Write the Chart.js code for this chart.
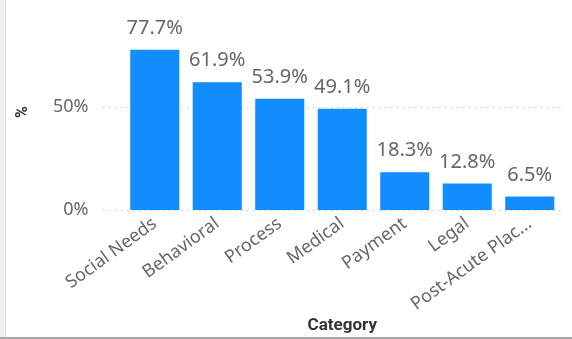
<!doctype html>
<html lang="en">
<head>
  <meta charset="utf-8" />
  <script src="https://cdn.jsdelivr.net/npm/chart.js@4/dist/chart.umd.min.js"></script>
  <style>
    html, body {
      margin: 0;
      padding: 0;
      width: 572px;
      height: 339px;
      background: #ffffff;
      overflow: hidden;
    }
    canvas { display: block; }
  </style>
</head>
<body>
  <canvas id="chart" width="572" height="339"></canvas>
  <script>
    const categories = ['Social Needs', 'Behavioral', 'Process', 'Medical', 'Payment', 'Legal', 'Post-Acute Plac...'];
    const shares = [77.7, 61.9, 53.9, 49.1, 18.3, 12.8, 6.5];
    const yTicks = [0, 50];

    const BAR = '#118DFF';
    const LABEL = '#666666';
    const TITLE = '#333333';
    const BODY_FONT = "'Noto Sans', 'Open Sans', sans-serif";
    const TITLE_FONT = "Roboto, 'DejaVu Sans', sans-serif";

    // visual frame: pale strip on the left, grey rule along the bottom
    const framePlugin = {
      id: 'frame',
      beforeDraw(chart) {
        const { ctx, width, height } = chart;
        ctx.save();
        ctx.fillStyle = '#ffffff';
        ctx.fillRect(0, 0, width, height);
        ctx.fillStyle = '#efefef';
        ctx.fillRect(0, 0, 5, height);
        ctx.fillStyle = '#e2e2e2';
        ctx.fillRect(5, 0, 1, height);
        ctx.fillStyle = '#a8a8a8';
        ctx.fillRect(0, height - 2, width, 2);
        ctx.restore();
      },
    };

    // dotted horizontal gridlines, wider than the category band
    const dottedGrid = {
      id: 'dottedGrid',
      beforeDatasetsDraw(chart) {
        const { ctx, scales: { y } } = chart;
        ctx.save();
        ctx.strokeStyle = '#c4c4c4';
        ctx.lineWidth = 1;
        ctx.setLineDash([1.5, 4.5]);
        yTicks.forEach(v => {
          const py = Math.round(y.getPixelForValue(v)) + 0.5;
          ctx.beginPath();
          ctx.moveTo(103, py);
          ctx.lineTo(564, py);
          ctx.stroke();
        });
        ctx.restore();
      },
    };

    // value labels above each bar
    const valueLabels = {
      id: 'valueLabels',
      afterDatasetsDraw(chart) {
        const { ctx } = chart;
        const meta = chart.getDatasetMeta(0);
        ctx.save();
        ctx.fillStyle = LABEL;
        ctx.font = `20px ${BODY_FONT}`;
        ctx.textAlign = 'center';
        ctx.textBaseline = 'alphabetic';
        meta.data.forEach((bar, i) => {
          ctx.fillText(shares[i].toFixed(1) + '%', bar.x, bar.y - 16);
        });
        ctx.restore();
      },
    };

    new Chart(document.getElementById('chart'), {
      type: 'bar',
      data: {
        labels: categories,
        datasets: [{
          data: shares,
          backgroundColor: BAR,
          borderWidth: 0,
          barPercentage: 0.785,
          categoryPercentage: 1,
        }],
      },
      options: {
        responsive: false,
        animation: false,
        layout: { padding: { left: 0, top: 14, right: 11, bottom: 0 } },
        plugins: {
          legend: { display: false },
          tooltip: { enabled: false },
        },
        scales: {
          x: {
            grid: { display: false, drawTicks: false },
            border: { display: false },
            ticks: {
              color: LABEL,
              font: { family: BODY_FONT, size: 18 },
              minRotation: 36,
              maxRotation: 36,
              autoSkip: false,
              padding: 3,
            },
            title: {
              display: true,
              text: 'Category',
              color: TITLE,
              font: { family: TITLE_FONT, size: 17, weight: 'bold' },
              padding: { top: 0, bottom: 3 },
            },
            afterFit(scale) {
              scale.height = 129;
              scale.paddingLeft = 0;
              scale.paddingRight = 0;
            },
          },
          y: {
            min: 0,
            max: 95,
            grid: { display: false, drawTicks: false },
            border: { display: false },
            afterBuildTicks(scale) {
              scale.ticks = yTicks.map(v => ({ value: v }));
            },
            ticks: {
              color: LABEL,
              font: { family: BODY_FONT, size: 18 },
              padding: 35,
              callback: v => v + '%',
            },
            title: {
              display: true,
              text: '%',
              color: TITLE,
              font: { family: TITLE_FONT, size: 16, weight: 'bold' },
              padding: { top: 13, bottom: 0 },
            },
            afterFit(scale) {
              scale.width = 123.5;
              scale.paddingTop = 0;
              scale.paddingBottom = 0;
            },
          },
        },
      },
      plugins: [framePlugin, dottedGrid, valueLabels],
    });
  </script>
</body>
</html>
